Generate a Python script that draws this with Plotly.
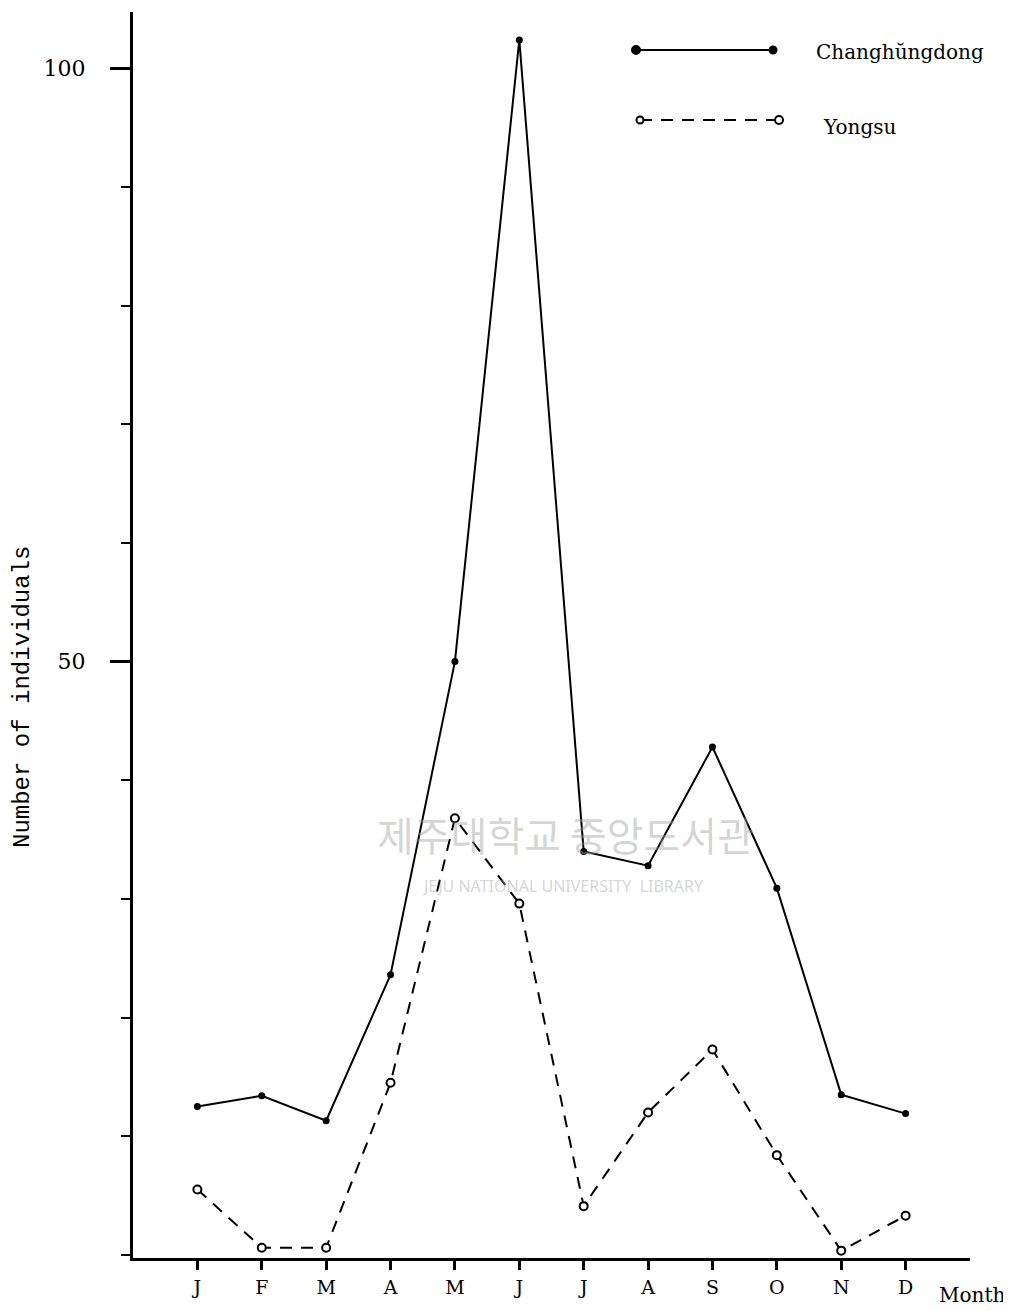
import plotly.graph_objects as go

months = ["J", "F", "M", "A", "M", "J", "J", "A", "S", "O", "N", "D"]
month_pos = list(range(1, 13))
changhungdong = [12.5, 13.4, 11.3, 23.6, 50.0, 102.4, 34.0, 32.8, 42.8, 30.9, 13.5, 11.9]
yongsu = [5.5, 0.6, 0.6, 14.5, 36.8, 29.6, 4.1, 12.0, 17.3, 8.4, 0.35, 3.3]
ytick_vals = [50, 100]
ytick_text = ["50", "100"]

OFF = 8  # page body margin
PAGE_W, PAGE_H = 1011, 1311
W, H = PAGE_W - OFF, PAGE_H - OFF
L, T = 133 - OFF, 12 - OFF
R, B = PAGE_W - 970, PAGE_H - 1258
pw, ph = W - L - R, H - T - B

def px(x):
    return (x - OFF - L) / pw

def py(y):
    return (H - B - (y - OFF)) / ph

fig = go.Figure()
fig.add_trace(go.Scatter(
    x=month_pos, y=changhungdong, mode="lines+markers", name="Changhŭngdong",
    line=dict(color="black", width=2),
    marker=dict(size=7, color="black"),
    showlegend=False, cliponaxis=False))
fig.add_trace(go.Scatter(
    x=month_pos, y=yongsu, mode="lines+markers", name="Yongsu",
    line=dict(color="black", width=2, dash="12px,9px"),
    marker=dict(size=8, color="white", symbol="circle", line=dict(color="black", width=2)),
    showlegend=False, cliponaxis=False))

serif = "DejaVu Serif"
fig.update_xaxes(
    range=[0, 13], tickvals=month_pos, ticktext=months,
    showline=True, linecolor="black", linewidth=3, mirror=False,
    ticks="outside", ticklen=9, tickwidth=3, tickcolor="black",
    showgrid=False, zeroline=False, ticklabelstandoff=1,
    tickfont=dict(family=serif, size=19, color="black"))
fig.update_yaxes(
    range=[-0.27, 104.75], tickvals=ytick_vals, ticktext=ytick_text,
    showline=True, linecolor="black", linewidth=3,
    ticks="outside", ticklen=20, tickwidth=3, tickcolor="black",
    minor=dict(dtick=10, tick0=0, ticks="outside", ticklen=9, tickwidth=2, tickcolor="black"),
    showgrid=False, zeroline=False, ticklabelstandoff=20,
    tickfont=dict(family=serif, size=22, color="black"))

shapes = []
shapes.append(dict(type="line", xref="paper", yref="paper", x0=px(636), x1=px(773), y0=py(50), y1=py(50),
                   line=dict(color="black", width=2)))
shapes.append(dict(type="line", xref="paper", yref="paper", x0=px(640), x1=px(778), y0=py(120), y1=py(120),
                   line=dict(color="black", width=2, dash="12px,9px")))
for cx, cy, r, fill in [(636, 50, 4, "black"), (773, 50, 3.5, "black"),
                        (640, 120, 3.5, "white"), (779, 120, 4, "white")]:
    shapes.append(dict(type="circle", xref="paper", yref="paper",
                       x0=px(cx - r), x1=px(cx + r), y0=py(cy + r), y1=py(cy - r),
                       fillcolor=fill, line=dict(color="black", width=2)))

annotations = [
    dict(text="Changhŭngdong", xref="paper", yref="paper", x=px(814), y=py(52),
         xanchor="left", yanchor="middle", showarrow=False,
         font=dict(family=serif, size=20, color="black")),
    dict(text="Yongsu", xref="paper", yref="paper", x=px(821), y=py(127),
         xanchor="left", yanchor="middle", showarrow=False,
         font=dict(family=serif, size=20, color="black")),
    dict(text="Month", xref="paper", yref="paper", x=px(937), y=py(1295),
         xanchor="left", yanchor="middle", showarrow=False,
         font=dict(family=serif, size=20, color="black")),
    dict(text="Number of individuals", xref="paper", yref="paper", x=px(22), y=py(697),
         xanchor="center", yanchor="middle", textangle=-90, showarrow=False,
         font=dict(family="Liberation Mono", size=24, color="black")),
    dict(text="제주대학교 중앙도서관", xref="paper", yref="paper", x=px(565), y=py(834),
         xanchor="center", yanchor="middle", showarrow=False,
         font=dict(family="Noto Sans CJK KR", size=40, color="rgba(160,160,160,0.45)")),
    dict(text="JEJU NATIONAL UNIVERSITY  LIBRARY", xref="paper", yref="paper", x=px(563), y=py(886),
         xanchor="center", yanchor="middle", showarrow=False,
         font=dict(family="Noto Sans", size=16, color="rgba(160,160,160,0.45)")),
]

fig.update_layout(
    width=W, height=H, margin=dict(l=L, r=R, t=T, b=B),
    paper_bgcolor="white", plot_bgcolor="white",
    shapes=shapes, annotations=annotations, showlegend=False)

fig.write_html("out.html")
